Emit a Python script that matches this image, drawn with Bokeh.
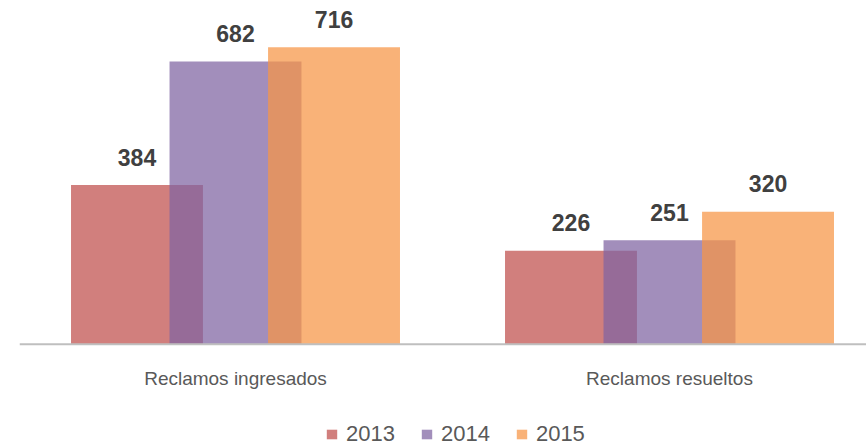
from bokeh.plotting import figure
from bokeh.models import Range1d, Legend, LegendItem, ColumnDataSource, Span
from bokeh.core.properties import value
from bokeh.embed import file_html
from bokeh.resources import INLINE

categories = ["Reclamos ingresados", "Reclamos resueltos"]
years = ["2013", "2014", "2015"]
v2013 = [384, 226]
v2014 = [682, 251]
v2015 = [716, 320]
series = [v2013, v2014, v2015]
colors = ["#C0504D", "#8064A2", "#F79646"]

FONT = "Liberation Sans"

p = figure(width=866, height=445, output_backend="svg", toolbar_location=None,
           x_range=Range1d(-0.4977, 1.4539), y_range=Range1d(-243.8, 829),
           min_border_left=19, min_border_right=0, min_border_top=0, min_border_bottom=0)
p.outline_line_color = None
p.grid.visible = False
p.xaxis.visible = False
p.yaxis.visible = False
p.background_fill_color = "white"

offsets = [-0.227, 0.0, 0.227]
bar_w = 0.304
items = []
for yr, vals, col, off in zip(years, series, colors, offsets):
    xs = [i + off for i in range(len(categories))]
    src = ColumnDataSource(dict(x=xs, top=vals, lab=[str(v) for v in vals]))
    r = p.vbar(x="x", top="top", width=bar_w, bottom=0, source=src,
               fill_color=col, fill_alpha=0.73, line_color=None)
    p.text(x="x", y="top", text="lab", source=src, text_align="center",
           text_baseline="alphabetic", y_offset=-28,
           text_font=value(FONT), text_font_size="23px", text_font_style="bold",
           text_color="#404040")
    items.append(LegendItem(label=yr, renderers=[r]))

# baseline (category axis line)
p.add_layout(Span(location=0, dimension="width", line_color="#BFBFBF", line_width=2))

# category labels
cat_src = ColumnDataSource(dict(x=list(range(len(categories))), y=[0] * len(categories),
                                t=categories))
p.text(x="x", y="y", text="t", source=cat_src, text_align="center",
       text_baseline="alphabetic", y_offset=34, text_font=value(FONT),
       text_font_size="19px", text_color="#595959")

legend = Legend(items=items, orientation="horizontal", location=(306, -2),
                glyph_width=13, glyph_height=12, label_standoff=8, spacing=25,
                padding=0, margin=0, border_line_color=None,
                background_fill_alpha=0, label_text_font=FONT,
                label_text_font_size="22px", label_text_color="#595959")
p.add_layout(legend, "center")

open("out.html", "w").write(file_html(p, INLINE))
